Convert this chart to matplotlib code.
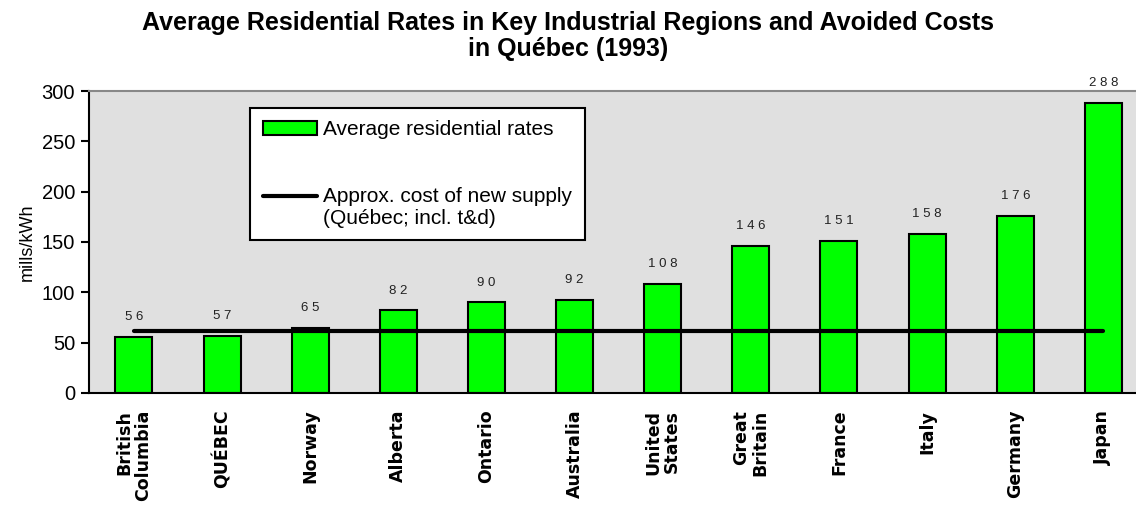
import numpy as np
import matplotlib
matplotlib.use("Agg")
import matplotlib.pyplot as plt
from matplotlib.legend_handler import HandlerLine2D

plt.rcParams['font.family'] = ['Liberation Sans', 'DejaVu Sans']

regions = ['British\nColumbia', 'QUÉBEC', 'Norway', 'Alberta', 'Ontario', 'Australia',
           'United\nStates', 'Great\nBritain', 'France', 'Italy', 'Germany', 'Japan']
rates = [56, 57, 65, 82, 90, 92, 108, 146, 151, 158, 176, 288]
new_supply = 62  # mills/kWh, approx. cost of new supply in Québec
yticks = [0, 50, 100, 150, 200, 250, 300]


class RaisedLine(HandlerLine2D):
    # put the line handle next to the first line of a two-line label
    def create_artists(self, legend, orig_handle, xdescent, ydescent, width, height, fontsize, trans):
        return super().create_artists(legend, orig_handle, xdescent, ydescent - 1.1 * fontsize,
                                      width, height, fontsize, trans)


fig = plt.figure(figsize=(11.36, 5.05), dpi=100)
ax = fig.add_axes([0.0783, 0.2218, 0.9217, 0.598])
ax.set_facecolor('#e0e0e0')

x = np.arange(len(regions))
bars = ax.bar(x, rates, width=0.42, color='#00ff00', edgecolor='black', linewidth=1.5,
              label='Average residential rates', zorder=2)
line, = ax.plot([x[0], x[-1]], [new_supply, new_supply], color='black', linewidth=3,
                solid_capstyle='round', label='Approx. cost of new supply\n(Québec; incl. t&d)', zorder=3)

# value labels with spaced digits like the original
for xi, v in zip(x, rates):
    ax.annotate(' '.join(str(v)), (xi, v), xytext=(0, 10), textcoords='offset points',
                ha='center', va='bottom', fontsize=9.5, color='#222222')

ax.set_xlim(-0.51, 11.37)
ax.set_ylim(0, 300)
ax.set_yticks(yticks)
ax.tick_params(axis='y', labelsize=14.5, length=6, width=1.5, direction='out', pad=4)
ax.set_xticks(x)
ax.set_xticklabels(regions, rotation=90, fontsize=12.5, fontweight='bold',
                   family='DejaVu Sans', va='top', ha='center', multialignment='right',
                   linespacing=1.05)
ax.tick_params(axis='x', length=0, pad=12)

ax.spines['left'].set_linewidth(1.5)
ax.spines['bottom'].set_linewidth(1.5)
ax.spines['top'].set_color('#888888')
ax.spines['top'].set_linewidth(1.5)
ax.spines['right'].set_visible(False)

ax.set_ylabel('mills/kWh', fontsize=13, labelpad=4)

leg = ax.legend([bars, line], [bars.get_label(), line.get_label()],
                handler_map={line: RaisedLine()},
                loc='upper left', bbox_to_anchor=(0.154, 0.944), fontsize=15,
                frameon=True, fancybox=False, edgecolor='black', framealpha=1,
                facecolor='white', handlelength=2.6, handleheight=0.65,
                labelspacing=2.3, borderpad=0.6, handletextpad=0.3, borderaxespad=0)
leg.get_frame().set_linewidth(1.5)
leg.get_texts()[1].set_linespacing(1.15)

fig.suptitle('Average Residential Rates in Key Industrial Regions and Avoided Costs\nin Québec (1993)',
             fontsize=18, fontweight='bold', x=0.5, y=0.978, linespacing=1.1)

fig.savefig('out.png', dpi=100)
